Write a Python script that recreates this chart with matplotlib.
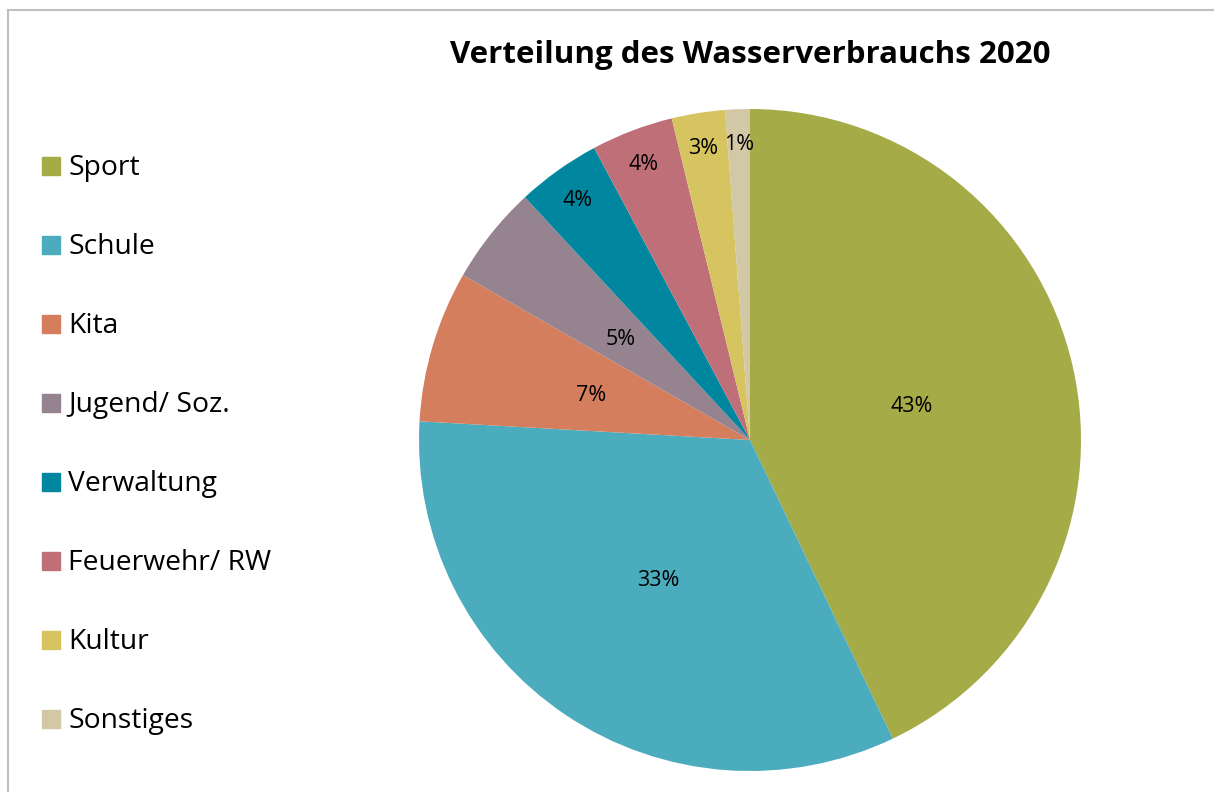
import matplotlib.pyplot as plt
from matplotlib.patches import Rectangle
from matplotlib.lines import Line2D
import numpy as np

plt.rcParams['font.family'] = ['Open Sans', 'DejaVu Sans']

# Wasserverbrauch 2020, Anteile in %
kategorien = ['Sport', 'Schule', 'Kita', 'Jugend/ Soz.', 'Verwaltung',
              'Feuerwehr/ RW', 'Kultur', 'Sonstiges']
anteile = [42.9, 33.0, 7.4, 4.8, 4.1, 4.0, 2.6, 1.2]
farben = ['#A5AB47', '#4BACBE', '#D47E5E', '#968390', '#00879F',
          '#BE6F77', '#D5C45F', '#D3C8A6']

W, H = 1214, 792
fig = plt.figure(figsize=(W / 100, H / 100), dpi=100)

# pie axes: centre (750,440) px, radius 331 px
cx, cy, r = 750, 440, 331
ax = fig.add_axes([(cx - r) / W, (H - cy - r) / H, 2 * r / W, 2 * r / H])
wedges, _ = ax.pie(anteile, colors=farben, startangle=90, counterclock=False,
                   radius=1, wedgeprops=dict(linewidth=0))
ax.set_xlim(-1, 1)
ax.set_ylim(-1, 1)
ax.set_aspect('equal')
ax.axis('off')

# percent labels
for w, v in zip(wedges, anteile):
    mid = np.deg2rad((w.theta1 + w.theta2) / 2)
    rr = 0.5 if v > 4.5 else 0.9
    ax.text(rr * np.cos(mid), rr * np.sin(mid) - 0.008, f'{round(v):.0f}%',
            ha='center', va='center', fontsize=15.5, color='black')

fig.text(750 / W, 1 - 55 / H, 'Verteilung des Wasserverbrauchs 2020',
         ha='center', va='center', fontsize=22.5, fontweight='bold')

# legend, drawn by hand
for i, (k, c) in enumerate(zip(kategorien, farben)):
    yc = 166 + i * 79
    fig.patches.append(Rectangle((42 / W, 1 - (yc + 9) / H), 18 / W, 18 / H,
                                 transform=fig.transFigure, color=c))
    fig.text(68 / W, 1 - (yc + 2) / H, k, ha='left', va='center', fontsize=20.3)

# grey frame (left and top)
fig.lines.append(Line2D([8 / W, 8 / W], [0, 1 - 10 / H], transform=fig.transFigure,
                        color='#BFBFBF', lw=1.5))
fig.lines.append(Line2D([8 / W, 1], [1 - 10 / H, 1 - 10 / H], transform=fig.transFigure,
                        color='#BFBFBF', lw=1.5))

fig.savefig('out.png', dpi=100)
